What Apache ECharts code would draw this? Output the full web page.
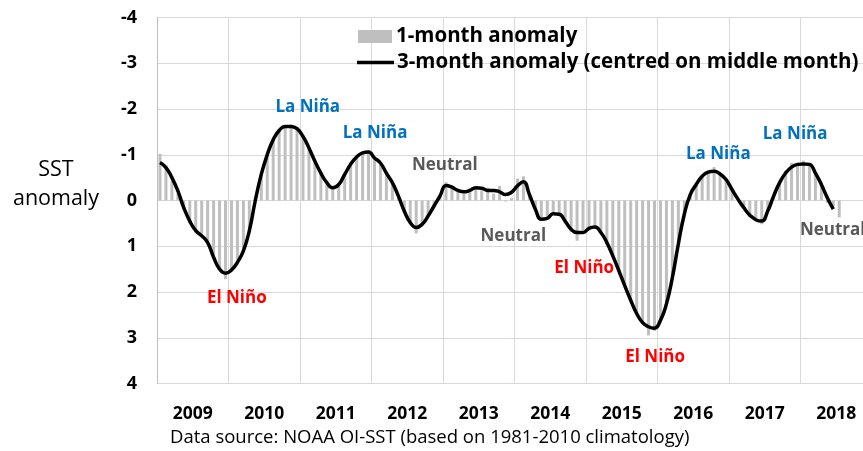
<!DOCTYPE html>
<html>
<head>
<meta charset="utf-8">
<script src="https://cdn.jsdelivr.net/npm/echarts@6/dist/echarts.min.js"></script>
<style>
html,body{margin:0;padding:0;background:#fff;}
#chart{width:863px;height:451px;}
</style>
</head>
<body>
<div id="chart"></div>
<script>
// Months from Jan 2009 (index 0)
const years = ['2009','2010','2011','2012','2013','2014','2015','2016','2017','2018'];
const yTicks = [-4,-3,-2,-1,0,1,2,3,4];

// 1-month anomaly (Jan 2009 .. Jul 2018)
const oneMonth = [
 -1.02,-0.78,-0.42,-0.15,0.20,0.50,0.70,0.72,0.88,1.20,1.50,1.72,
 1.55,1.30,1.05,0.62,-0.05,-0.60,-1.05,-1.35,-1.55,-1.65,-1.66,-1.55,
 -1.38,-1.12,-0.82,-0.58,-0.36,-0.26,-0.38,-0.60,-0.82,-0.98,-1.05,-1.10,
 -0.95,-0.78,-0.58,-0.36,-0.05,0.26,0.52,0.72,0.55,0.32,0.10,-0.12,
 -0.40,-0.30,-0.20,-0.15,-0.25,-0.30,-0.22,-0.28,-0.15,-0.32,0.02,-0.05,
 -0.48,-0.53,-0.10,0.20,0.45,0.38,0.30,0.28,0.50,0.68,0.88,0.65,
 0.60,0.55,0.72,0.95,1.25,1.55,1.90,2.20,2.50,2.70,2.95,2.85,
 2.60,2.20,1.65,0.90,0.25,-0.15,-0.40,-0.55,-0.65,-0.73,-0.55,-0.45,
 -0.20,0.00,0.18,0.35,0.40,0.52,0.20,-0.12,-0.42,-0.65,-0.82,-0.78,
 -0.87,-0.78,-0.60,-0.38,0.05,0.12,0.37
];

// 3-month anomaly centred on middle month (Jan 2009 .. Jun 2018)
const threeMonth = [
 -0.83,-0.72,-0.50,-0.21,0.16,0.45,0.66,0.77,0.92,1.24,1.50,1.59,
 1.52,1.35,1.10,0.66,0.00,-0.57,-1.00,-1.33,-1.53,-1.62,-1.62,-1.57,
 -1.40,-1.15,-0.86,-0.60,-0.39,-0.28,-0.35,-0.57,-0.79,-0.95,-1.04,-1.06,
 -0.93,-0.82,-0.60,-0.39,-0.10,0.23,0.48,0.59,0.52,0.34,0.12,-0.10,
 -0.33,-0.29,-0.22,-0.19,-0.22,-0.28,-0.27,-0.22,-0.22,-0.19,-0.13,-0.18,
 -0.32,-0.41,-0.13,0.19,0.41,0.39,0.29,0.30,0.45,0.63,0.70,0.70,
 0.61,0.58,0.70,0.92,1.21,1.53,1.86,2.18,2.47,2.67,2.76,2.79,
 2.62,2.26,1.68,0.95,0.30,-0.13,-0.35,-0.53,-0.62,-0.64,-0.58,-0.46,
 -0.24,-0.03,0.16,0.32,0.42,0.45,0.23,-0.10,-0.39,-0.60,-0.73,-0.79,
 -0.80,-0.79,-0.60,-0.35,-0.06,0.19
];

// Annotations: month position, anomaly position, text, colour
const notes = [
 [25.3,-2.03,'La Niña','#0070C0'],
 [36.6,-1.47,'La Niña','#0070C0'],
 [48.3,-0.77,'Neutral','#595959'],
 [59.8,0.79,'Neutral','#595959'],
 [13.4,2.13,'El Niño','#FF0000'],
 [71.7,1.47,'El Niño','#FF0000'],
 [83.6,3.42,'El Niño','#FF0000'],
 [94.2,-1.01,'La Niña','#0070C0'],
 [107.1,-1.45,'La Niña','#0070C0'],
 [113.4,0.64,'Neutral','#595959']
];

const FONT = '"Open Sans", sans-serif';
const chart = echarts.init(document.getElementById('chart'), null, {renderer:'canvas'});
chart.setOption({
  animation:false,
  backgroundColor:'#fff',
  textStyle:{fontFamily:FONT},
  grid:{left:157, top:17.5, width:715, height:366, containLabel:false, outerBoundsMode:'none'},
  legend:[
    {data:[{name:'1-month anomaly', icon:'rect'}], left:353, top:21, itemWidth:34, itemHeight:13, itemGap:0,
     textStyle:{fontFamily:FONT, fontWeight:'bold', fontSize:20.5, color:'#000', padding:[0,0,0,-1]}},
    {data:[{name:'3-month anomaly (centred on middle month)', icon:'rect'}], left:352, top:47, itemWidth:37, itemHeight:3.5, itemGap:0,
     textStyle:{fontFamily:FONT, fontWeight:'bold', fontSize:20.5, color:'#000', padding:[0,0,0,-2]}}
  ],
  xAxis:[
    {type:'value', min:0, max:120, interval:12, axisLabel:{show:false}, axisTick:{show:false},
     axisLine:{show:false}, splitLine:{show:true, lineStyle:{color:'#d9d9d9', width:1}}},
    {type:'category', data:years, position:'bottom', boundaryGap:true, axisTick:{show:false},
     axisLine:{show:false}, splitLine:{show:false},
     axisLabel:{fontFamily:FONT, fontWeight:'bold', fontSize:17.5, color:'#000', margin:22}}
  ],
  yAxis:{type:'value', inverse:true, min:yTicks[0], max:yTicks[yTicks.length-1], interval:1,
    axisLine:{show:true, lineStyle:{color:'#bfbfbf'}}, axisTick:{show:false},
    splitLine:{show:true, lineStyle:{color:'#d9d9d9', width:1}},
    axisLabel:{fontFamily:FONT, fontWeight:'bold', fontSize:18, color:'#000', margin:20}},
  graphic:[
    {type:'text', x:56, y:184, style:{text:'SST\nanomaly', fontFamily:FONT, fontSize:21.5, fill:'#000',
      align:'center', verticalAlign:'middle', lineHeight:29}},
    {type:'text', x:170, y:438, style:{text:'Data source: NOAA OI-SST (based on 1981-2010 climatology)',
      fontFamily:FONT, fontSize:18.5, fill:'#000', align:'left', verticalAlign:'middle'}}
  ],
  series:[
    {name:'1-month anomaly', type:'bar', xAxisIndex:0, barWidth:3, itemStyle:{color:'#bfbfbf'},
     data: oneMonth.map((v,i)=>[i+0.5, v])},
    {name:'3-month anomaly (centred on middle month)', type:'line', xAxisIndex:0, smooth:true, symbol:'none',
     lineStyle:{color:'#000', width:3.5}, itemStyle:{color:'#000'},
     data: threeMonth.map((v,i)=>[i+0.5, v])},
    {name:'notes', type:'scatter', xAxisIndex:0, symbolSize:1, itemStyle:{color:'rgba(0,0,0,0)', opacity:1},
     silent:true,
     label:{show:true, position:'inside', formatter:p=>p.data.t, fontFamily:FONT, fontWeight:'bold', fontSize:17,
       textBorderWidth:0},
     data: notes.map(n=>({value:[n[0], n[1]], t:n[2], label:{color:n[3]}}))}
  ]
});
</script>
</body>
</html>
